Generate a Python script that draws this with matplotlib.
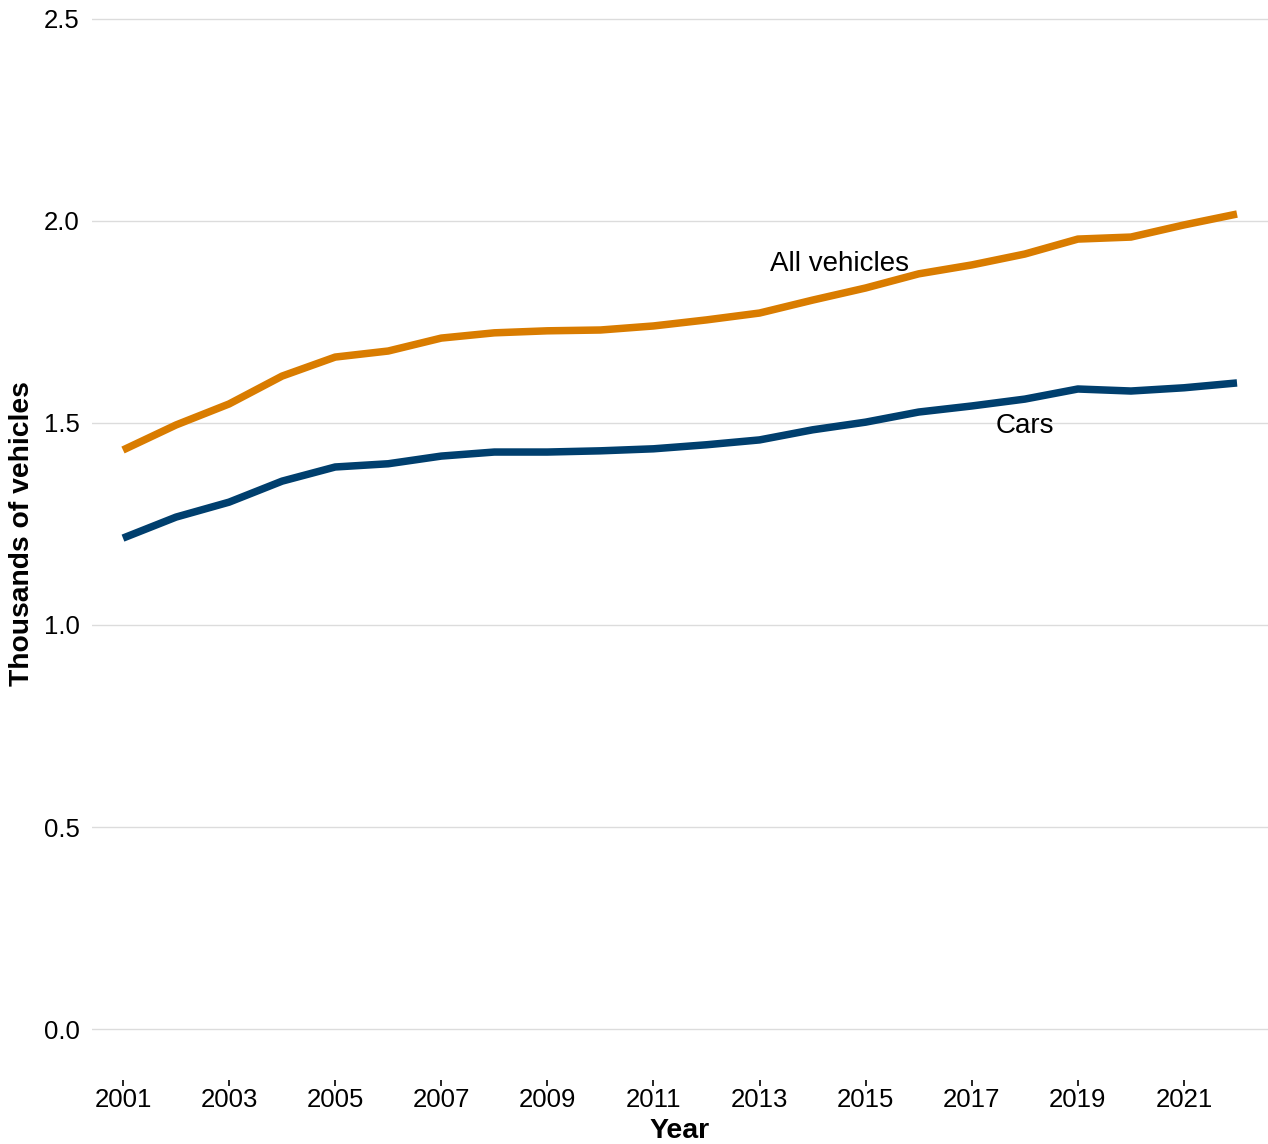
import matplotlib.pyplot as plt

plt.rcParams['font.family'] = ['Liberation Sans', 'DejaVu Sans']

# Licensed vehicles per year, in thousands
years = list(range(2001, 2023))
all_vehicles = [1.433, 1.495, 1.547, 1.616, 1.663, 1.678, 1.710, 1.723, 1.728, 1.730, 1.740,
                1.755, 1.772, 1.804, 1.834, 1.869, 1.891, 1.918, 1.955, 1.960, 1.990, 2.017]
cars = [1.215, 1.267, 1.304, 1.356, 1.391, 1.399, 1.418, 1.428, 1.428, 1.431, 1.436,
        1.446, 1.458, 1.483, 1.502, 1.527, 1.542, 1.559, 1.584, 1.579, 1.587, 1.599]
y_ticks = [0.0, 0.5, 1.0, 1.5, 2.0, 2.5]
x_ticks = list(range(2001, 2022, 2))

W, H = 1268, 1144
fig = plt.figure(figsize=(W / 100, H / 100), dpi=100)
ax = fig.add_axes([92 / W, 1 - 1080 / H, (W - 92) / W, (1080 - 14) / H])

ax.plot(years, all_vehicles, color='#D97C00', lw=5.4, solid_capstyle='butt', zorder=3)
ax.plot(years, cars, color='#003F6E', lw=5.4, solid_capstyle='butt', zorder=3)

ax.text(2014.5, 1.9, 'All vehicles', ha='center', va='center_baseline', fontsize=20)
ax.text(2018, 1.5, 'Cars', ha='center', va='center_baseline', fontsize=20)

ax.set_xlim(2000.416, 2022.584)
ax.set_ylim(-0.126, 2.512)
ax.set_yticks(y_ticks)
ax.set_yticklabels([f'{v:.1f}' for v in y_ticks])
ax.set_xticks(x_ticks)
ax.grid(axis='y', color='#DCDCDC', lw=1.0)
ax.set_axisbelow(True)
for s in ax.spines.values():
    s.set_visible(False)
ax.tick_params(axis='y', length=0, pad=9, labelsize=18.5, labelcolor='black')
ax.tick_params(axis='x', length=4.5, width=1.2, color='black', pad=1.5, labelsize=18.5)

fig.text(22 / W, 1 - 534 / H, 'Thousands of vehicles', rotation=90, ha='center', va='center',
         fontsize=20.3, fontweight='bold')
fig.text(680 / W, 1 - 1131 / H, 'Year', ha='center', va='center', fontsize=20.5, fontweight='bold')

fig.savefig('out.png', dpi=100)
